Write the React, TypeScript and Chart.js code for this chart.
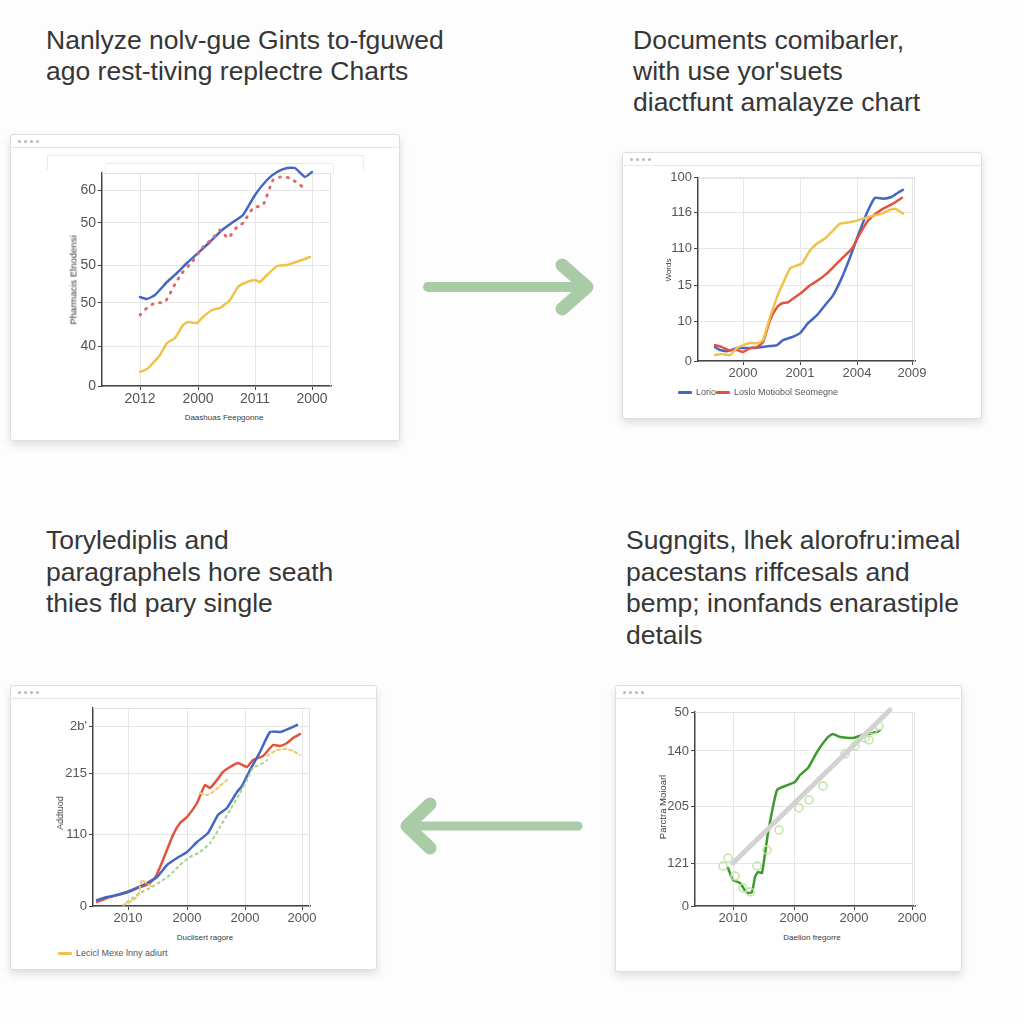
import { useEffect, useRef } from "react";
import { Chart, registerables } from "chart.js";

Chart.register(...registerables);

// ---------- Panel 1 (top-left) ----------
const p1XTicks = [0, 58, 115, 172];
const p1XLabels = ["2012", "2000", "2011", "2000"];
const p1YTicks = [0, 40, 83, 121, 163, 196];
const p1YLabels = ["0", "40", "50", "50", "50", "60"];
const p1BlueX = [0, 7, 15, 27, 37, 47, 58, 70, 82, 93, 103, 115, 127, 137, 147, 155, 165, 172];
const p1BlueY = [89, 87, 91, 104, 113, 123, 133, 144, 156, 164, 171, 191, 206, 214, 218, 218, 209, 214];
const p1RedX = [0, 7, 15, 25, 35, 42, 52, 63, 73, 80, 88, 97, 103, 113, 123, 133, 140, 150, 160, 167];
const p1RedY = [71, 78, 83, 84, 102, 113, 124, 139, 148, 156, 148, 159, 163, 178, 181, 206, 209, 208, 201, 196];
const p1YellowX = [0, 7, 13, 20, 27, 35, 43, 48, 57, 63, 72, 80, 90, 98, 107, 115, 120, 127, 137, 147, 153, 162, 170];
const p1YellowY = [14, 17, 23, 31, 43, 48, 61, 64, 63, 69, 76, 78, 86, 99, 104, 106, 104, 111, 120, 121, 123, 126, 129];

// ---------- Panel 2 (top-right) ----------
const p2XTicks = [45, 102, 159, 214];
const p2XLabels = ["2000", "2001", "2004", "2009"];
const p2YTicks = [0, 40, 76, 113, 149, 184];
const p2YLabels = ["0", "10", "15", "110", "116", "100"];
const p2BlueX = [17, 22, 30, 39, 45, 55, 64, 72, 79, 85, 94, 102, 110, 119, 127, 135, 144, 152, 160, 169, 177, 185, 194, 200, 205];
const p2BlueY = [14, 11, 10, 13, 13, 13, 14, 15, 16, 21, 24, 28, 38, 46, 56, 66, 84, 104, 126, 149, 164, 163, 165, 169, 172];
const p2RedX = [17, 24, 30, 39, 45, 52, 59, 65, 72, 79, 84, 90, 97, 104, 112, 120, 129, 137, 145, 154, 162, 170, 179, 187, 195, 204];
const p2RedY = [16, 14, 11, 11, 9, 13, 14, 19, 41, 54, 58, 59, 64, 69, 76, 81, 88, 96, 104, 113, 128, 141, 149, 154, 158, 164];
const p2YellowX = [17, 24, 32, 39, 45, 52, 60, 65, 72, 79, 85, 92, 99, 104, 112, 119, 127, 135, 142, 150, 159, 165, 175, 184, 190, 197, 204, 205];
const p2YellowY = [6, 7, 6, 13, 16, 18, 18, 21, 44, 64, 78, 93, 96, 98, 111, 118, 123, 131, 138, 139, 141, 143, 146, 148, 151, 153, 149, 148];
const p2Legend = ["Lorio", "Loslo Motiobol Seomegne"];

// ---------- Panel 3 (bottom-left) ----------
const p3XTicks = [35, 94, 152, 209];
const p3XLabels = ["2010", "2000", "2000", "2000"];
const p3YTicks = [0, 72, 133, 180];
const p3YLabels = ["0", "110", "215", "2b'"];
const p3BlueX = [4, 14, 24, 35, 44, 54, 64, 74, 84, 94, 104, 115, 125, 134, 144, 149, 157, 167, 177, 187, 195, 204];
const p3BlueY = [6, 9, 11, 14, 18, 23, 29, 41, 48, 54, 64, 73, 91, 98, 114, 120, 136, 154, 174, 174, 177, 181];
const p3RedX = [4, 14, 24, 34, 44, 54, 62, 70, 80, 87, 94, 104, 112, 117, 124, 130, 137, 145, 154, 160, 170, 180, 187, 194, 200, 207];
const p3RedY = [4, 8, 11, 14, 18, 21, 28, 46, 71, 83, 89, 103, 121, 118, 126, 134, 139, 143, 139, 146, 150, 161, 160, 163, 168, 172];
const p3GreenX = [34, 47, 57, 67, 77, 87, 97, 107, 117, 127, 137, 147, 154, 160, 170, 174];
const p3GreenY = [4, 13, 18, 24, 31, 41, 49, 54, 63, 79, 96, 113, 126, 138, 143, 146];
const p3YellowX = [30, 35, 40, 45, 49, 54, 60, 80, 107, 114, 120, 127, 134, 150, 174, 184, 194, 200, 207];
const p3YellowY = [1, 3, 6, 10, 26, 22, 19, null, 113, 111, 114, 120, 126, null, 150, 156, 157, 155, 151];
const p3Legend = ["Lecicl Mexe lnny adiurt"];

// ---------- Panel 4 (bottom-right) ----------
const p4XTicks = [38, 99, 159, 217];
const p4XLabels = ["2010", "2000", "2000", "2000"];
const p4YTicks = [0, 43, 100, 155, 194];
const p4YLabels = ["0", "121", "205", "140", "50"];
const p4GreenX = [33, 38, 45, 52, 57, 60, 63, 67, 73, 82, 90, 100, 105, 113, 122, 133, 138, 145, 158, 168, 182, 185];
const p4GreenY = [38, 26, 23, 13, 14, 29, 34, 33, 73, 116, 120, 124, 131, 138, 154, 169, 172, 169, 168, 171, 174, 176];
const p4TrendX = [38, 195];
const p4TrendY = [43, 196];
const p4DotsX = [28, 33, 40, 48, 55, 62, 72, 84, 104, 114, 128, 150, 160, 170, 178, 184, 174];
const p4DotsY = [40, 48, 30, 18, 14, 40, 56, 76, 98, 106, 120, 152, 160, 168, 176, 180, 166];

const FONT = "'Liberation Sans', Arial, Helvetica, sans-serif";

type Series = {
  label: string;
  xs: number[];
  ys: (number | null)[];
  color: string;
  width: number;
  dash?: number[];
  radius?: number;
  fill?: string;
  showLine?: boolean;
};

type PlotProps = {
  left: number;
  top: number;
  width: number;
  height: number;
  series: Series[];
  xTicks: number[];
  xLabels: string[];
  yTicks: number[];
  yLabels: string[];
  xMin: number;
  xMax: number;
  yMax: number;
  padTop: number;
  padRight: number;
  yAxisW: number;
  xAxisH: number;
  fontSize: number;
};

const framePlugin = {
  id: "frame",
  beforeDatasetsDraw(chart: any) {
    const { ctx, chartArea } = chart;
    ctx.save();
    ctx.strokeStyle = "#e2e2e2";
    ctx.lineWidth = 1;
    ctx.beginPath();
    ctx.moveTo(chartArea.left, chartArea.top + 0.5);
    ctx.lineTo(chartArea.right - 0.5, chartArea.top + 0.5);
    ctx.lineTo(chartArea.right - 0.5, chartArea.bottom);
    ctx.stroke();
    ctx.restore();
  },
};

function Plot(p: PlotProps) {
  const ref = useRef<HTMLCanvasElement>(null);
  useEffect(() => {
    const chart = new Chart(ref.current as HTMLCanvasElement, {
      type: "line",
      data: {
        datasets: p.series.map((s) => ({
          label: s.label,
          data: s.xs.map((x, i) => ({ x, y: s.ys[i] })),
          borderColor: s.color,
          backgroundColor: s.fill ?? s.color,
          borderWidth: s.width,
          borderDash: s.dash ?? [],
          borderCapStyle: "round",
          borderJoinStyle: "round",
          pointRadius: s.radius ?? 0,
          pointBorderWidth: 1.5,
          showLine: s.showLine ?? true,
          tension: 0.15,
          clip: false,
          spanGaps: false,
        })) as any,
      },
      options: {
        animation: false,
        responsive: false,
        maintainAspectRatio: false,
        layout: { padding: { top: p.padTop, right: p.padRight, left: 0, bottom: 0 } },
        plugins: { legend: { display: false }, tooltip: { enabled: false } },
        scales: {
          x: {
            type: "linear",
            min: p.xMin,
            max: p.xMax,
            afterBuildTicks: (ax: any) => {
              ax.ticks = p.xTicks.map((v) => ({ value: v }));
            },
            afterFit: (ax: any) => {
              ax.height = p.xAxisH;
            },
            ticks: {
              callback: (_v: any, i: number) => p.xLabels[i],
              autoSkip: false,
              maxRotation: 0,
              color: "#555",
              padding: 1,
              font: { family: FONT, size: p.fontSize },
            },
            grid: { color: "#e6e6e6", tickLength: 4, tickColor: "#444" },
            border: { color: "#444", width: 1.5 },
          },
          y: {
            type: "linear",
            min: 0,
            max: p.yMax,
            afterBuildTicks: (ax: any) => {
              ax.ticks = p.yTicks.map((v) => ({ value: v }));
            },
            afterFit: (ax: any) => {
              ax.width = p.yAxisW;
            },
            ticks: {
              callback: (_v: any, i: number) => p.yLabels[i],
              autoSkip: false,
              color: "#555",
              padding: 2,
              font: { family: FONT, size: p.fontSize },
            },
            grid: { color: "#e6e6e6", tickLength: 4, tickColor: "#444" },
            border: { color: "#444", width: 1.5 },
          },
        },
      } as any,
      plugins: [framePlugin],
    });
    return () => chart.destroy();
  }, []);
  return (
    <canvas
      ref={ref}
      width={p.width}
      height={p.height}
      style={{ position: "absolute", left: p.left, top: p.top, width: p.width, height: p.height }}
    />
  );
}

function Window({ left, top, width, height }: { left: number; top: number; width: number; height: number }) {
  return (
    <div
      style={{
        position: "absolute",
        left,
        top,
        width,
        height,
        background: "#fff",
        border: "1px solid #dedede",
        borderRadius: 3,
        boxShadow: "0 4px 10px rgba(0,0,0,0.13)",
        boxSizing: "border-box",
      }}
    >
      <div style={{ height: 12, borderBottom: "1px solid #e6e6e6", position: "relative" }}>
        {[0, 1, 2, 3].map((i) => (
          <div
            key={i}
            style={{
              position: "absolute",
              left: 7 + i * 6,
              top: 5,
              width: 3,
              height: 3,
              borderRadius: 2,
              background: "#b8b8b8",
            }}
          />
        ))}
      </div>
    </div>
  );
}

function Para({ left, top, lines, lh }: { left: number; top: number; lines: string[]; lh: number }) {
  return (
    <div
      style={{
        position: "absolute",
        left,
        top,
        fontFamily: FONT,
        fontSize: 26.5,
        lineHeight: `${lh}px`,
        color: "#363636",
        whiteSpace: "nowrap",
      }}
    >
      {lines.map((l, i) => (
        <div key={i}>{l}</div>
      ))}
    </div>
  );
}

function Label({ x, y, text, rotate, size = 9 }: { x: number; y: number; text: string; rotate?: boolean; size?: number }) {
  return (
    <div
      style={{
        position: "absolute",
        left: x,
        top: y,
        transform: `translate(-50%, -50%)${rotate ? " rotate(-90deg)" : ""}`,
        fontFamily: FONT,
        fontSize: size,
        color: "#3a3a3a",
        whiteSpace: "nowrap",
      }}
    >
      {text}
    </div>
  );
}

function LegendItem({ x, y, color, text }: { x: number; y: number; color: string; text: string }) {
  return (
    <div style={{ position: "absolute", left: x, top: y - 6, display: "flex", alignItems: "center", fontFamily: FONT, fontSize: 9, color: "#555", whiteSpace: "nowrap" }}>
      <div style={{ width: 14, height: 3, background: color, marginRight: 4, borderRadius: 1 }} />
      {text}
    </div>
  );
}

const BLUE = "#4567c4";
const RED = "#e2533f";
const YELLOW = "#efc24c";
const ARROW = "#a9cca6";

export default function App() {
  return (
    <div style={{ position: "fixed", left: 0, top: 0, width: 1024, height: 1024, background: "#fdfdfd", overflow: "hidden" }}>
      <Para left={46} top={25} lh={31} lines={["Nanlyze nolv-gue Gints to-fguwed", "ago rest-tiving replectre Charts"]} />
      <Para left={633} top={25} lh={31} lines={["Documents comibarler,", "with use yor'suets", "diactfunt amalayze chart"]} />
      <Para left={46} top={525} lh={31.5} lines={["Torylediplis and", "paragraphels hore seath", "thies fld pary single"]} />
      <Para left={626} top={525} lh={31.5} lines={["Sugngits, lhek alorofru:imeal", "pacestans riffcesals and", "bemp; inonfands enarastiple", "details"]} />

      {/* Window 1 */}
      <Window left={10} top={134} width={390} height={307} />
      <div style={{ position: "absolute", left: 47, top: 155, width: 315, height: 14, borderTop: "1px solid #e8e8e8", borderLeft: "1px solid #ececec", borderRight: "1px solid #ececec" }} />
      <div style={{ position: "absolute", left: 105, top: 163, width: 227, height: 10, borderTop: "1px solid #e8e8e8", borderLeft: "1px solid #ececec", borderRight: "1px solid #ececec", borderRadius: "3px 3px 0 0" }} />
      <Plot
        left={55}
        top={158}
        width={300}
        height={250}
        xMin={-38}
        xMax={191}
        yMax={213}
        padTop={15}
        padRight={24}
        yAxisW={47}
        xAxisH={22}
        fontSize={14}
        xTicks={p1XTicks}
        xLabels={p1XLabels}
        yTicks={p1YTicks}
        yLabels={p1YLabels}
        series={[
          { label: "yellow", xs: p1YellowX, ys: p1YellowY, color: YELLOW, width: 2.5 },
          { label: "red", xs: p1RedX, ys: p1RedY, color: "#e26a66", width: 3, dash: [1, 7] },
          { label: "blue", xs: p1BlueX, ys: p1BlueY, color: BLUE, width: 2.5 },
        ]}
      />
      <Label x={224} y={417} text="Daashuas Feepgonne" size={8} />
      <Label x={73} y={280} text="Pharmacis Elnodensi" rotate size={9.5} />

      {/* Window 2 */}
      <Window left={622} top={152} width={360} height={267} />
      <Plot
        left={650}
        top={168}
        width={280}
        height={215}
        xMin={0}
        xMax={217}
        yMax={184}
        padTop={9}
        padRight={15}
        yAxisW={48}
        xAxisH={22}
        fontSize={13}
        xTicks={p2XTicks}
        xLabels={p2XLabels}
        yTicks={p2YTicks}
        yLabels={p2YLabels}
        series={[
          { label: "yellow", xs: p2YellowX, ys: p2YellowY, color: YELLOW, width: 2.5 },
          { label: p2Legend[1], xs: p2RedX, ys: p2RedY, color: RED, width: 2.5 },
          { label: p2Legend[0], xs: p2BlueX, ys: p2BlueY, color: BLUE, width: 2.5 },
        ]}
      />
      <Label x={668} y={270} text="Words" rotate size={8} />
      <LegendItem x={678} y={393} color={BLUE} text={p2Legend[0]} />
      <LegendItem x={716} y={393} color={RED} text={p2Legend[1]} />

      {/* Window 3 */}
      <Window left={10} top={685} width={367} height={285} />
      <Plot
        left={45}
        top={698}
        width={280}
        height={230}
        xMin={0}
        xMax={217}
        yMax={198}
        padTop={10}
        padRight={15}
        yAxisW={48}
        xAxisH={22}
        fontSize={13}
        xTicks={p3XTicks}
        xLabels={p3XLabels}
        yTicks={p3YTicks}
        yLabels={p3YLabels}
        series={[
          { label: p3Legend[0], xs: p3YellowX, ys: p3YellowY, color: "#f0c866", width: 2, dash: [3, 3] },
          { label: "green", xs: p3GreenX, ys: p3GreenY, color: "#9fd68a", width: 2, dash: [2, 4] },
          { label: "blue", xs: p3BlueX, ys: p3BlueY, color: BLUE, width: 2.5 },
          { label: "red", xs: p3RedX, ys: p3RedY, color: RED, width: 2.5 },
        ]}
      />
      <Label x={205} y={937} text="Duclisert ragore" size={8} />
      <Label x={60} y={813} text="Addtuod" rotate size={9} />
      <LegendItem x={58} y={954} color={YELLOW} text={p3Legend[0]} />

      {/* Window 4 */}
      <Window left={615} top={685} width={347} height={287} />
      <Plot
        left={647}
        top={702}
        width={285}
        height={226}
        xMin={0}
        xMax={220}
        yMax={194}
        padTop={10}
        padRight={17}
        yAxisW={48}
        xAxisH={22}
        fontSize={13}
        xTicks={p4XTicks}
        xLabels={p4XLabels}
        yTicks={p4YTicks}
        yLabels={p4YLabels}
        series={[
          { label: "trend", xs: p4TrendX, ys: p4TrendY, color: "#d2d2d2", width: 5 },
          { label: "dots", xs: p4DotsX, ys: p4DotsY, color: "#bfe3a8", width: 1.5, radius: 4, fill: "rgba(255,255,255,0)", showLine: false },
          { label: "green", xs: p4GreenX, ys: p4GreenY, color: "#3d9a2c", width: 2.5 },
        ]}
      />
      <Label x={812} y={937} text="Daelion fregorre" size={8} />
      <Label x={662} y={807} text="Parctra Moioarl" rotate size={9.5} />

      {/* Arrows */}
      <svg style={{ position: "absolute", left: 0, top: 0 }} width={1024} height={1024}>
        <g stroke={ARROW} strokeLinecap="round" strokeLinejoin="round" fill="none">
          <line x1={428} y1={287} x2={584} y2={287} strokeWidth={10} />
          <polyline points="562,265 587,287 562,309" strokeWidth={13} />
          <line x1={578} y1={826} x2={410} y2={826} strokeWidth={9} />
          <polyline points="430,804 407,826 430,848" strokeWidth={13} />
        </g>
      </svg>
    </div>
  );
}
